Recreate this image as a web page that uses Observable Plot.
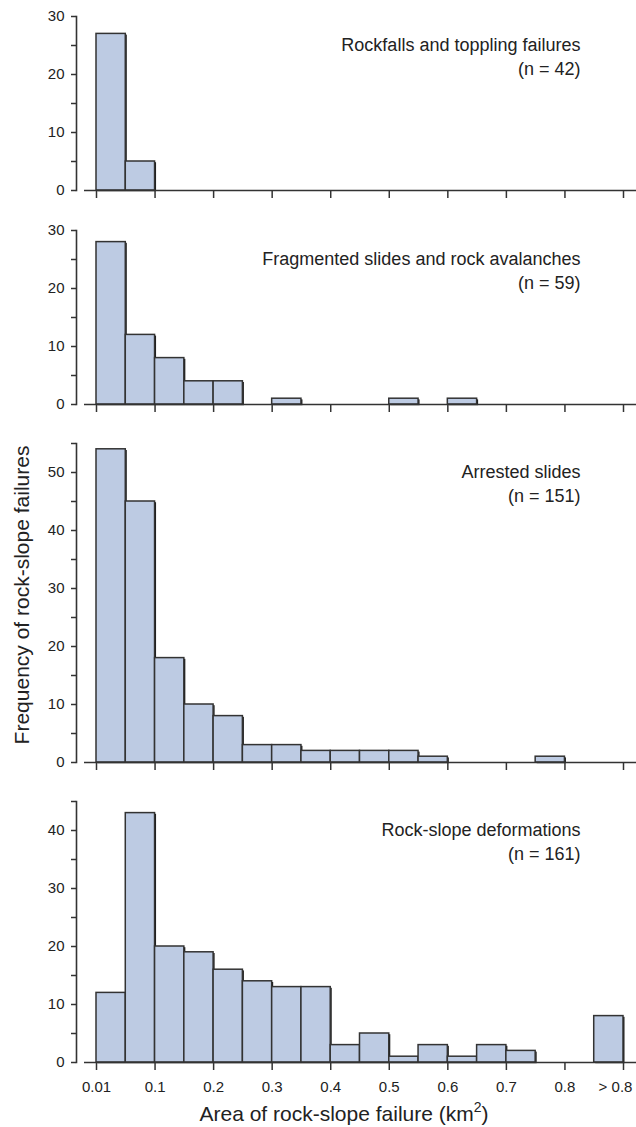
<!DOCTYPE html>
<html><head><meta charset="utf-8">
<script src="https://cdn.jsdelivr.net/npm/d3@7"></script>
<script src="https://cdn.jsdelivr.net/npm/@observablehq/plot@0.6"></script>
<style>
body{margin:0;background:#fff;}
#fig{position:relative;width:636px;height:1127px;font-family:"Liberation Sans",Arial,Helvetica,sans-serif;color:#222;overflow:hidden;}
#fig svg{position:absolute;left:0;overflow:visible;background:transparent;}
.ytitle{position:absolute;left:21px;top:595px;transform:translate(-50%,-50%) rotate(-90deg);font-size:21px;white-space:nowrap;line-height:1;}
.xtitle{position:absolute;left:344px;top:1103px;transform:translateX(-50%);font-size:21px;white-space:nowrap;line-height:1;}
.xtitle sup{font-size:14px;line-height:0;position:relative;top:-1px;}
</style></head><body>
<div id="fig">
  <div class="ytitle">Frequency of rock-slope failures</div>
  <div class="xtitle">Area of rock-slope failure (km<sup>2</sup>)</div>
</div>
<script>
// Bin categories (km²), one slot per bar position
const binLabels = ["0.01–0.05","0.05–0.1","0.1–0.15","0.15–0.2","0.2–0.25","0.25–0.3","0.3–0.35","0.35–0.4",
  "0.4–0.45","0.45–0.5","0.5–0.55","0.55–0.6","0.6–0.65","0.65–0.7","0.7–0.75","0.75–0.8","0.8–0.85","> 0.8"];
const tickLabels = ["0.01","0.1","0.2","0.3","0.4","0.5","0.6","0.7","0.8","> 0.8"];

const panelTitles = ["Rockfalls and toppling failures","Fragmented slides and rock avalanches","Arrested slides","Rock-slope deformations"];
const panelN = [42, 59, 151, 161];
const panelYMax = [30, 30, 55, 45];

const rockfalls    = [27, 5, 0, 0, 0, 0, 0, 0, 0, 0, 0, 0, 0, 0, 0, 0, 0, 0];
const fragmented   = [28,12, 8, 4, 4, 0, 1, 0, 0, 0, 1, 0, 1, 0, 0, 0, 0, 0];
const arrested     = [54,45,18,10, 8, 3, 3, 2, 2, 2, 2, 1, 0, 0, 0, 1, 0, 0];
const deformations = [12,43,20,19,16,14,13,13, 3, 5, 1, 3, 1, 3, 2, 0, 0, 8];
const series = [rockfalls, fragmented, arrested, deformations];

const FONT = '"Liberation Sans", Arial, Helvetica, sans-serif';
const fig = document.getElementById("fig");
const unit = 5.8, gap = 39.3, mt = 10;
let panelTop = 16.3;
const tickPos = tickLabels.map((_, i) => i * 2);

series.forEach((counts, k) => {
  const last = k === series.length - 1;
  const ymax = panelYMax[k];
  const fh = ymax * unit;
  const mb = last ? 40 : 12;
  const data = counts.map((c, i) => ({i, c, bin: binLabels[i]})).filter(d => d.c > 0);
  const marks = [
    Plot.rectY(data, {x1: "i", x2: d => d.i + 1, y: "c", fill: "#1a1a1a", dx: 1.5, dy: 1.2, inset: 0}),
    Plot.rectY(data, {x1: "i", x2: d => d.i + 1, y: "c", fill: "#bdcbe3", stroke: "#333", strokeWidth: 1.5, inset: 0}),
    Plot.ruleY([0], {stroke: "#333", strokeWidth: 1.6}),
    Plot.frame({anchor: "left", dx: -8, stroke: "#333", strokeWidth: 1.6}),
    Plot.axisY(d3.range(0, ymax + 1, 5), {tickSize: 5, tickFormat: () => "", dx: -8, stroke: "#333", strokeWidth: 1.5}),
    Plot.axisY(d3.range(0, ymax + 1, 10), {tickSize: 0, tickPadding: 12, dx: -8, fontSize: 15, fill: "#222"}),
    Plot.axisX(tickPos, {tickSize: 8, tickFormat: () => "", stroke: "#333", strokeWidth: 1.5}),
    Plot.text([`${panelTitles[k]}\n(n = ${panelN[k]})`], {
      frameAnchor: "top-right", dx: -56, dy: 18, textAnchor: "end", lineAnchor: "top",
      fontSize: 18, lineHeight: 1.33, fill: "#222"
    })
  ];
  if (last) {
    marks.push(Plot.axisX(tickPos.slice(0, -1), {tickSize: 0, tickPadding: 19, fontSize: 15, fill: "#222",
      tickFormat: d => tickLabels[d / 2]}));
    marks.push(Plot.axisX(tickPos.slice(-1), {tickSize: 0, tickPadding: 19, dx: -8, fontSize: 15, fill: "#222",
      tickFormat: d => tickLabels[d / 2]}));
  }
  const chart = Plot.plot({
    width: 636, height: mt + fh + mb,
    marginTop: mt, marginBottom: mb, marginLeft: 84, marginRight: 0,
    style: {fontFamily: FONT, fontSize: "15px", color: "#222", background: "transparent", overflow: "visible"},
    x: {type: "linear", domain: [0, 18], range: [96, 623], label: null},
    y: {domain: [0, ymax], label: null},
    marks
  });
  chart.style.top = (panelTop - mt) + "px";
  fig.appendChild(chart);
  panelTop += fh + gap;
});
</script>
</body></html>
